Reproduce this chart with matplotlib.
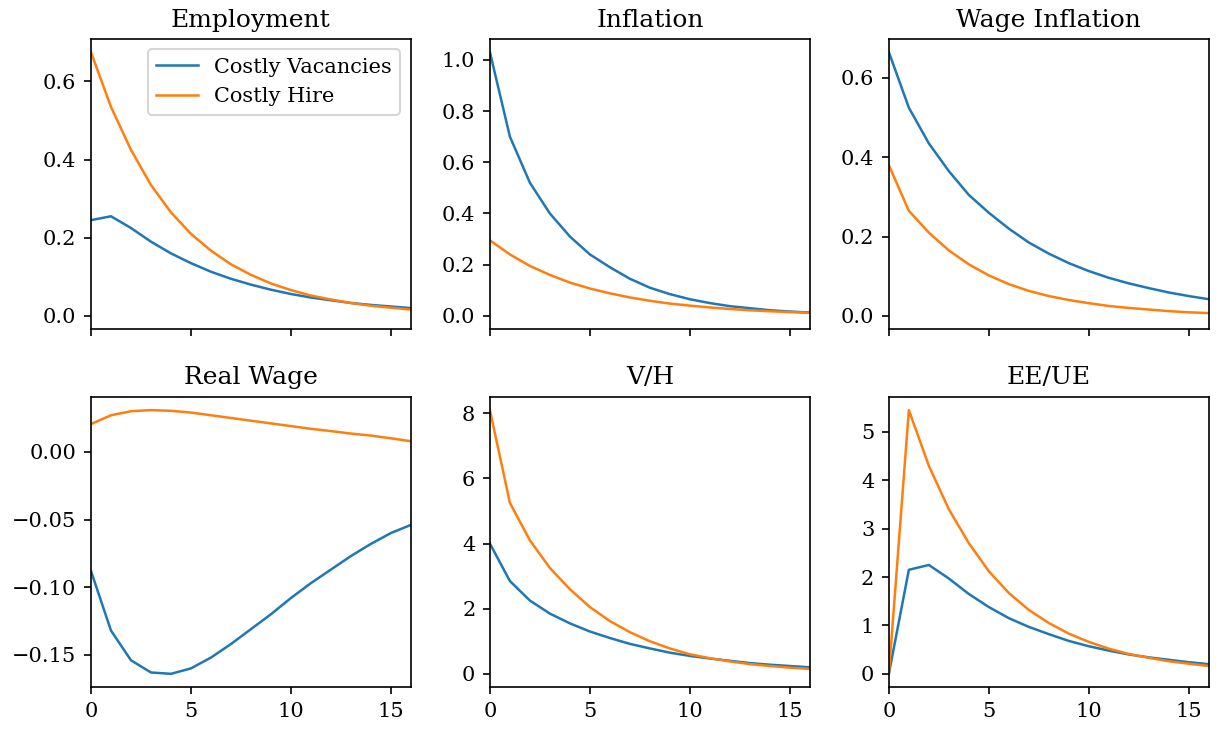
import numpy as np
import matplotlib
matplotlib.use("Agg")
import matplotlib.pyplot as plt

plt.rcParams['font.family'] = ['DejaVu Serif']

#** DADOS **
horizonte = np.arange(17)
titulos = ["Employment", "Inflation", "Wage Inflation", "Real Wage", "V/H", "EE/UE"]
nomes = ["Costly Vacancies", "Costly Hire"]

emp_vac = [0.245, 0.255, 0.225, 0.19, 0.16, 0.135, 0.113, 0.095, 0.08, 0.067, 0.056, 0.047, 0.04, 0.033, 0.028, 0.024, 0.02]
emp_hire = [0.675, 0.535, 0.425, 0.335, 0.265, 0.21, 0.167, 0.132, 0.105, 0.083, 0.066, 0.052, 0.042, 0.033, 0.026, 0.021, 0.016]

inf_vac = [1.03, 0.70, 0.52, 0.40, 0.31, 0.24, 0.19, 0.145, 0.11, 0.085, 0.065, 0.05, 0.038, 0.03, 0.022, 0.017, 0.013]
inf_hire = [0.295, 0.24, 0.195, 0.16, 0.13, 0.107, 0.088, 0.072, 0.059, 0.048, 0.04, 0.033, 0.027, 0.022, 0.018, 0.015, 0.012]

winf_vac = [0.665, 0.525, 0.435, 0.365, 0.305, 0.26, 0.22, 0.185, 0.157, 0.133, 0.113, 0.096, 0.082, 0.07, 0.059, 0.05, 0.042]
winf_hire = [0.38, 0.265, 0.21, 0.165, 0.13, 0.102, 0.08, 0.063, 0.05, 0.04, 0.032, 0.025, 0.02, 0.016, 0.012, 0.009, 0.007]

rw_vac = [-0.088, -0.132, -0.154, -0.163, -0.164, -0.160, -0.152, -0.142, -0.131, -0.120, -0.108, -0.097, -0.087, -0.077, -0.068, -0.060, -0.054]
rw_hire = [0.0205, 0.027, 0.030, 0.0308, 0.0303, 0.029, 0.027, 0.025, 0.023, 0.021, 0.019, 0.017, 0.0153, 0.0135, 0.012, 0.0100, 0.0078]

vh_vac = [4.0, 2.85, 2.25, 1.85, 1.55, 1.3, 1.1, 0.92, 0.78, 0.65, 0.55, 0.47, 0.4, 0.33, 0.28, 0.24, 0.2]
vh_hire = [8.1, 5.25, 4.1, 3.25, 2.6, 2.05, 1.62, 1.28, 1.0, 0.78, 0.6, 0.48, 0.38, 0.3, 0.24, 0.19, 0.15]

eeue_vac = [0.0, 2.15, 2.25, 1.97, 1.65, 1.38, 1.15, 0.97, 0.82, 0.68, 0.57, 0.48, 0.4, 0.34, 0.29, 0.24, 0.2]
eeue_hire = [0.0, 5.45, 4.3, 3.4, 2.7, 2.12, 1.67, 1.32, 1.05, 0.83, 0.66, 0.52, 0.41, 0.33, 0.26, 0.21, 0.16]

series = [(emp_vac, emp_hire), (inf_vac, inf_hire), (winf_vac, winf_hire),
          (rw_vac, rw_hire), (vh_vac, vh_hire), (eeue_vac, eeue_hire)]

#** GRÁFICO **
fig, axes = plt.subplots(2, 3, figsize=(8.14, 4.86), dpi=150, sharex=True)
for ax, titulo, (vac, hire) in zip(axes.flat, titulos, series):
    ax.plot(horizonte, vac, label=nomes[0], lw=1.2)
    ax.plot(horizonte, hire, label=nomes[1], lw=1.2)
    # as respostas voltam a zero no longo prazo: inclui o zero na escala
    ax.update_datalim([[0, 0]])
    ax.autoscale_view()
    ax.set_title(titulo)
    ax.set_xlim(0, 16)

axes[0, 0].legend(loc="upper right")
fig.subplots_adjust(left=0.0745, right=0.990, top=0.9465, bottom=0.0576,
                    wspace=0.247, hspace=0.234)
fig.savefig("out.png")
